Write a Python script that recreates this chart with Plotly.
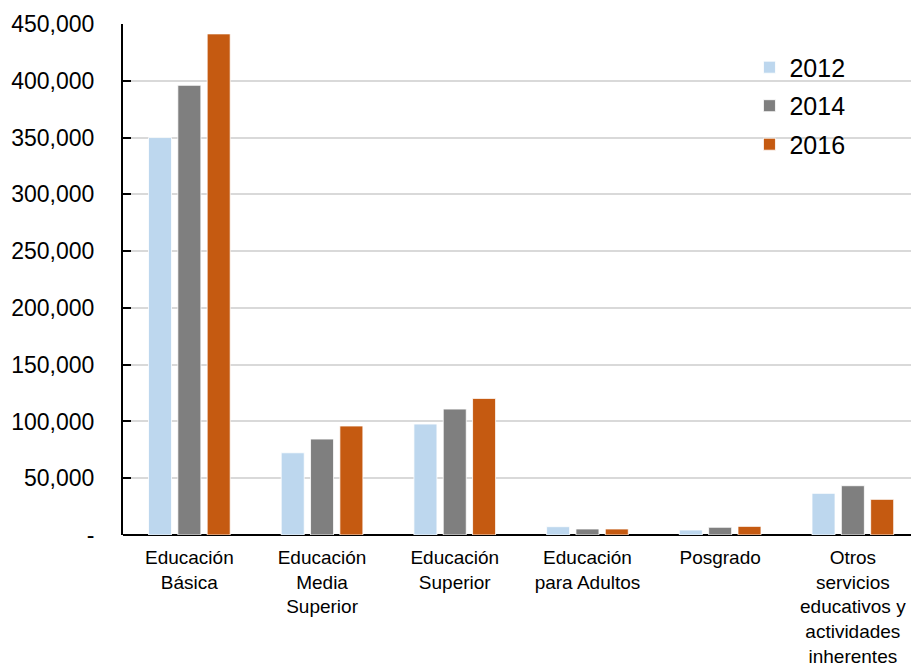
import plotly.graph_objects as go

categories = ["Educación<br>Básica", "Educación<br>Media<br>Superior", "Educación<br>Superior",
              "Educación<br>para Adultos", "Posgrado",
              "Otros<br>servicios<br>educativos y<br>actividades<br>inherentes"]
years = ["2012", "2014", "2016"]
values_2012 = [350000, 72400, 97700, 7300, 4400, 36700]
values_2014 = [396000, 84500, 110900, 5300, 6800, 43400]
values_2016 = [441300, 96000, 120300, 5300, 7600, 31400]
colors = ["#BDD7EE", "#7F7F7F", "#C55A11"]
tick_vals = [0, 50000, 100000, 150000, 200000, 250000, 300000, 350000, 400000, 450000]
tick_text = ["-", "50,000", "100,000", "150,000", "200,000", "250,000", "300,000",
             "350,000", "400,000", "450,000"]

FONT = "Liberation Sans, Arial, sans-serif"

fig = go.Figure()
for i, (yr, vals) in enumerate(zip(years, [values_2012, values_2014, values_2016])):
    fig.add_trace(go.Bar(
        x=categories, y=vals, name=yr, legendgroup=yr,
        marker=dict(color=colors[i], line=dict(color="white", width=0.8)),
    ))

fig.update_layout(
    width=911, height=666,
    margin=dict(l=123, r=0, t=24, b=131),
    paper_bgcolor="white", plot_bgcolor="white",
    barmode="group", bargap=0.337, bargroupgap=0.215,
    font=dict(family=FONT, color="black"),
    showlegend=True,
    legend=dict(x=0.795, y=0.96, xanchor="left", yanchor="top",
                font=dict(size=25, family=FONT), tracegroupgap=3,
                bgcolor="rgba(0,0,0,0)"),
    xaxis=dict(range=[-0.5, -0.5 + 788 / 132.7], showgrid=False, ticks="",
               showline=False, tickfont=dict(size=19, family=FONT),
               ticklabelstandoff=9, zeroline=False, automargin=False),
    yaxis=dict(range=[0, 450000], tickvals=tick_vals, ticktext=tick_text,
               showgrid=True, gridcolor="#D9D9D9", gridwidth=1.5,
               showline=True, linecolor="black", linewidth=2,
               ticks="inside", ticklen=8, tickwidth=1.5, tickcolor="black",
               tickfont=dict(size=23, family=FONT), ticklabelstandoff=22,
               zeroline=True, zerolinecolor="black", zerolinewidth=2,
               automargin=False),
)

fig.write_html("out.html")
